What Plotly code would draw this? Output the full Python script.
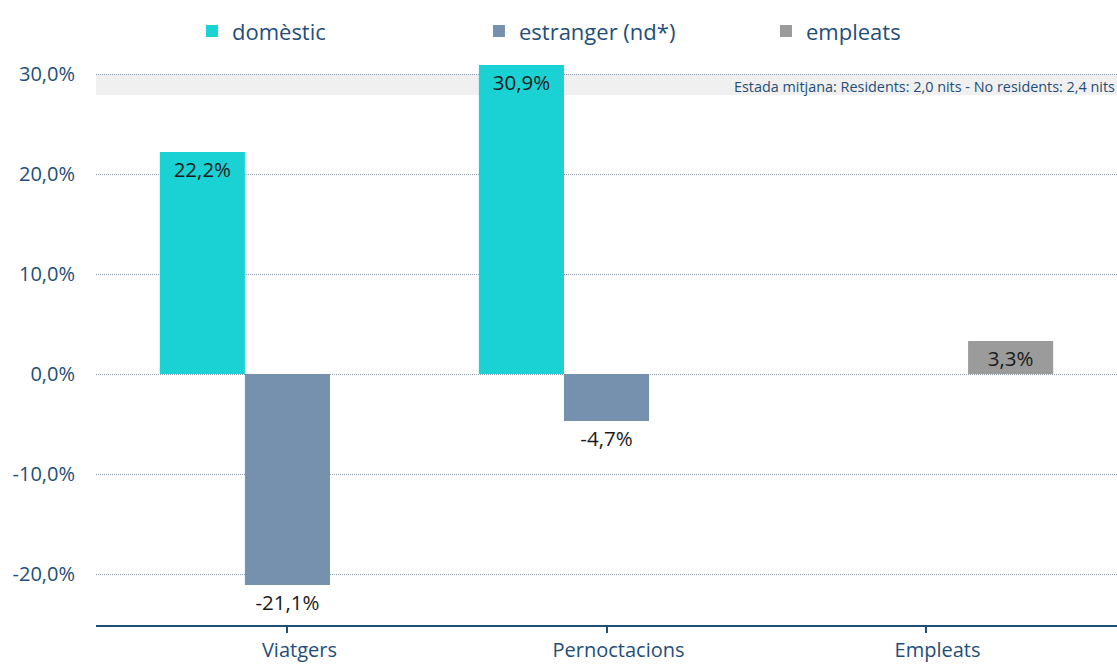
import plotly.graph_objects as go

categories = ["Viatgers", "Pernoctacions", "Empleats"]
domestic = [22.2, 30.9, None]
foreign = [-21.1, -4.7, None]
employees = [None, None, 3.3]
series_names = ["domèstic", "estranger (nd*)", "empleats"]
colors = ["#1ad2d3", "#7691ae", "#9b9b9b"]
tick_vals = [-20, -10, 0, 10, 20, 30]
tick_text = ["-20,0%", "-10,0%", "0,0%", "10,0%", "20,0%", "30,0%"]
note = "Estada mitjana: Residents: 2,0 nits - No residents: 2,4 nits"

def fmt(v):
    return "" if v is None else f"{v:.1f}".replace(".", ",") + "%"

def positions(vals):
    return ["inside" if (v is not None and v >= 0) else "outside" for v in vals]

fig = go.Figure()
for name, vals, col in zip(series_names, [domestic, foreign, employees], colors):
    fig.add_trace(go.Bar(
        x=categories, y=vals, name=name, marker=dict(color=col, line=dict(width=0)),
        text=[fmt(v) for v in vals], textposition=positions(vals),
        insidetextanchor="end", constraintext="none", cliponaxis=False,
        textfont=dict(family="Open Sans", size=20.5, color="#1a1a1a"),
        insidetextfont=dict(family="Open Sans", size=20.5, color="#1a1a1a"),
        outsidetextfont=dict(family="Open Sans", size=20.5, color="#1a1a1a"),
    ))

fig.add_shape(type="rect", xref="paper", x0=0, x1=1, yref="y", y0=27.9, y1=30,
              fillcolor="#f0f0f0", line=dict(width=0), layer="below")
fig.add_annotation(text=note, xref="paper", x=1, xanchor="right", yref="y", y=28.8,
                   yanchor="middle", showarrow=False,
                   font=dict(family="Open Sans", size=14.4, color="#1f4e79"))

fig.update_layout(
    width=1117, height=665,
    margin=dict(l=96, r=0, t=54, b=40, autoexpand=False),
    paper_bgcolor="white", plot_bgcolor="white",
    barmode="group", bargap=0.2, bargroupgap=0,
    font=dict(family="Open Sans", color="#1f4e79"),
    showlegend=True,
    legend=dict(orientation="h", x=0.094, xanchor="left", y=1.04, yanchor="middle",
                font=dict(family="Open Sans", size=22, color="#1f4e79"),
                entrywidth=242, entrywidthmode="pixels", itemwidth=30,
                bgcolor="rgba(0,0,0,0)"),
    xaxis=dict(range=[-0.6, 2.6], showgrid=False, showline=True, linecolor="#1f4e79",
               linewidth=2, ticks="outside", ticklen=6, tickwidth=2, tickcolor="#1f4e79",
               ticklabelshift=12, automargin=False,
               tickfont=dict(family="Open Sans", size=20, color="#1f4e79")),
    yaxis=dict(range=[-25.1, 32], tickvals=tick_vals, ticktext=tick_text,
               showgrid=True, gridcolor="#8b9cb3", griddash="1px,1px", gridwidth=1,
               zeroline=False, showline=False, ticks="outside", ticklen=16,
               tickcolor="rgba(0,0,0,0)", automargin=False,
               tickfont=dict(family="Open Sans", size=20, color="#1f4e79")),
)

fig.write_html("out.html", config={"displayModeBar": False},
               post_script="document.body.style.margin='0';document.body.style.overflow='hidden';")
